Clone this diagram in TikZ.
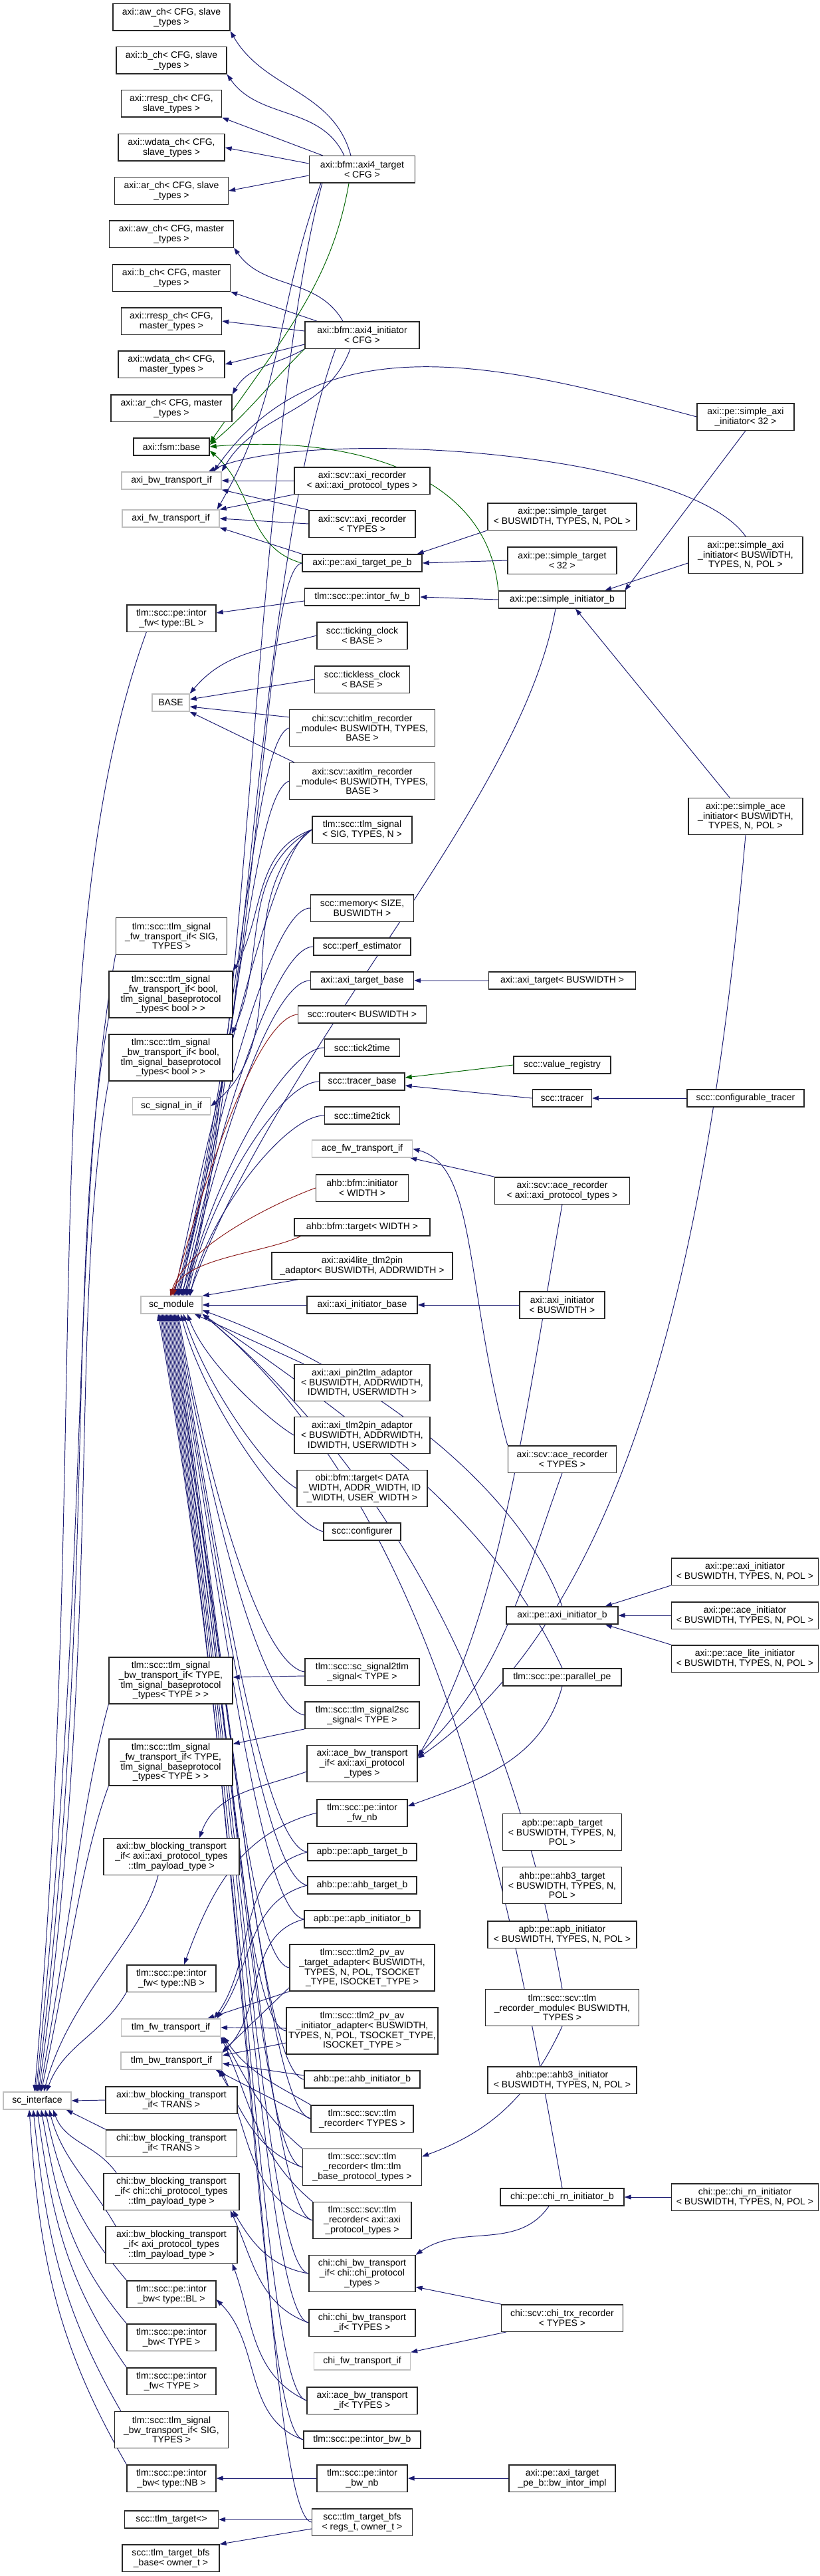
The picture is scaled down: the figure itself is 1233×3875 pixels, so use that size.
\documentclass[tikz,border=0pt]{standalone}
\usepackage{fontspec}
\setmainfont{Liberation Sans}
\usepackage{xcolor}
\usetikzlibrary{arrows.meta, backgrounds}
\definecolor{edgeblue}{RGB}{25,25,112}
\definecolor{edgegreen}{RGB}{0,100,0}
\definecolor{edgered}{RGB}{139,26,26}

\begin{document}
\begin{tikzpicture}[
    x=0.25pt, y=0.25pt,
    cls/.style     = {rectangle, draw=black!85, line width=0.35pt, fill=white,
                      align=center, inner sep=0.5pt, minimum height=6.5pt,
                      font={\fontsize{3.5}{3.7}\selectfont}},
    cls2/.style    = {cls, minimum height=10.1pt},
    cls3/.style    = {cls, minimum height=13.75pt},
    cls4/.style    = {cls, minimum height=17.5pt},
    ext/.style     = {cls, draw=black!25},
    bw/.style      = {minimum width=#1*0.25pt},
    xs/.style      = {xshift=#1*0.25pt},
    ys/.style      = {yshift=#1*0.25pt},
    inh/.style     = {draw=edgeblue, line width=0.24pt,
                      -{Triangle[length=2.5pt,width=1.75pt]}},
    inhprot/.style = {inh, draw=edgegreen},
    inhpriv/.style = {inh, draw=edgered}
  ]
  \useasboundingbox (0,0) rectangle (1233,-3875);

  % ── Column 1: bases (x≈258) ─────────────────────────────────
  \node[cls2, bw=176] (awS)    at (258,-26)  {axi::aw\_ch< CFG, slave\\\_types >};
  \node[cls2, bw=166] (bS)     at (258,-91)  {axi::b\_ch< CFG, slave\\\_types >};
  \node[cls2, bw=151] (rrespS) at (258,-156) {axi::rresp\_ch< CFG,\\slave\_types >};
  \node[cls2, bw=160] (wdataS) at (258,-222) {axi::wdata\_ch< CFG,\\slave\_types >};
  \node[cls2, bw=171] (arS)    at (258,-287) {axi::ar\_ch< CFG, slave\\\_types >};
  \node[cls2, bw=187] (awM)    at (258,-352) {axi::aw\_ch< CFG, master\\\_types >};
  \node[cls2, bw=177] (bM)     at (258,-418) {axi::b\_ch< CFG, master\\\_types >};
  \node[cls2, bw=151] (rrespM) at (258,-483) {axi::rresp\_ch< CFG,\\master\_types >};
  \node[cls2, bw=160] (wdataM) at (258,-548) {axi::wdata\_ch< CFG,\\master\_types >};
  \node[cls2, bw=182] (arM)    at (258,-614) {axi::ar\_ch< CFG, master\\\_types >};
  \node[cls,  bw=114] (fsm)    at (258,-672) {axi::fsm::base};
  \node[ext,  bw=150] (axibw)  at (258,-723) {axi\_bw\_transport\_if};
  \node[ext,  bw=146] (axifw)  at (257,-780) {axi\_fw\_transport\_if};
  \node[cls2, bw=134] (intorFwBL) at (258,-930)  {tlm::scc::pe::intor\\\_fw< type::BL >};
  \node[ext,  bw=56]  (baseTpl)   at (257,-1057) {BASE};
  \node[cls3, bw=167] (sigFwSIG)  at (258,-1408) {tlm::scc::tlm\_signal\\\_fw\_transport\_if< SIG,\\TYPES >};
  \node[cls4, bw=186] (sigFwBool) at (257,-1496) {tlm::scc::tlm\_signal\\\_fw\_transport\_if< bool,\\tlm\_signal\_baseprotocol\\\_types< bool > >};
  \node[cls4, bw=186] (sigBwBool) at (257,-1591) {tlm::scc::tlm\_signal\\\_bw\_transport\_if< bool,\\tlm\_signal\_baseprotocol\\\_types< bool > >};
  \node[ext,  bw=117] (scSigIn)   at (258,-1664) {sc\_signal\_in\_if};
  \node[ext,  bw=92]  (scModule)  at (258,-1963) {sc\_module};
  \node[cls4, bw=186] (sigBwTYPE) at (257,-2528) {tlm::scc::tlm\_signal\\\_bw\_transport\_if< TYPE,\\tlm\_signal\_baseprotocol\\\_types< TYPE > >};
  \node[cls4, bw=186] (sigFwTYPE) at (257,-2651) {tlm::scc::tlm\_signal\\\_fw\_transport\_if< TYPE,\\tlm\_signal\_baseprotocol\\\_types< TYPE > >};
  \node[cls3, bw=204] (axiBwBlkPT) at (258,-2793) {axi::bw\_blocking\_transport\\\_if< axi::axi\_protocol\_types\\::tlm\_payload\_type >};
  \node[cls2, bw=134] (intorFwNB)  at (258,-2976) {tlm::scc::pe::intor\\\_fw< type::NB >};
  \node[ext,  bw=149] (tlmfw)      at (257,-3050) {tlm\_fw\_transport\_if};
  \node[ext,  bw=152] (tlmbw)      at (258,-3100) {tlm\_bw\_transport\_if};
  \node[ext,  bw=102] (scInterface) at (56,-3160) {sc\_interface};
  \node[cls2, bw=198] (axiBwBlkTRANS) at (258,-3159) {axi::bw\_blocking\_transport\\\_if< TRANS >};
  \node[cls2, bw=197] (chiBwBlkTRANS) at (258,-3224) {chi::bw\_blocking\_transport\\\_if< TRANS >};
  \node[cls3, bw=204] (chiBwBlkChi)   at (258,-3297) {chi::bw\_blocking\_transport\\\_if< chi::chi\_protocol\_types\\::tlm\_payload\_type >};
  \node[cls3, bw=198] (axiBwBlkAxi)   at (258,-3377) {axi::bw\_blocking\_transport\\\_if< axi\_protocol\_types\\::tlm\_payload\_type >};
  \node[cls2, bw=134] (intorBwBL)   at (258,-3451) {tlm::scc::pe::intor\\\_bw< type::BL >};
  \node[cls2, bw=134] (intorBwTYPE) at (258,-3516) {tlm::scc::pe::intor\\\_bw< TYPE >};
  \node[cls2, bw=134] (intorFwTYPE) at (258,-3582) {tlm::scc::pe::intor\\\_fw< TYPE >};
  \node[cls3, bw=171] (sigBwSIG)    at (258,-3655) {tlm::scc::tlm\_signal\\\_bw\_transport\_if< SIG,\\TYPES >};
  \node[cls2, bw=134] (intorBwNB)   at (258,-3728) {tlm::scc::pe::intor\\\_bw< type::NB >};
  \node[cls,  bw=141] (tlmTarget)   at (258,-3790) {scc::tlm\_target<>};
  \node[cls2, bw=146] (bfsBase)     at (257,-3848) {scc::tlm\_target\_bfs\\\_base< owner\_t >};

  % ── Column 2: classes (x≈545) ──────────────────────────────
  \node[cls2, bw=159] (axi4Target)    at (545,-255)  {axi::bfm::axi4\_target\\< CFG >};
  \node[cls2, bw=172] (axi4Init)      at (545,-504)  {axi::bfm::axi4\_initiator\\< CFG >};
  \node[cls2, bw=204] (axiRecPT)      at (545,-723)  {axi::scv::axi\_recorder\\< axi::axi\_protocol\_types >};
  \node[cls2, bw=160] (axiRecTYPES)   at (545,-788)  {axi::scv::axi\_recorder\\< TYPES >};
  \node[cls,  bw=180] (targetPeB)     at (545,-847)  {axi::pe::axi\_target\_pe\_b};
  \node[cls,  bw=173] (intorFwB)      at (545,-898)  {tlm::scc::pe::intor\_fw\_b};
  \node[cls2, bw=136] (tickingClock)  at (545,-956)  {scc::ticking\_clock\\< BASE >};
  \node[cls2, bw=143] (ticklessClock) at (545,-1022) {scc::tickless\_clock\\< BASE >};
  \node[cls3, bw=219] (chitlmRec)     at (545,-1095) {chi::scv::chitlm\_recorder\\\_module< BUSWIDTH, TYPES,\\BASE >};
  \node[cls3, bw=219] (axitlmRec)     at (545,-1175) {axi::scv::axitlm\_recorder\\\_module< BUSWIDTH, TYPES,\\BASE >};
  \node[cls2, bw=150] (tlmSignal)     at (545,-1248) {tlm::scc::tlm\_signal\\< SIG, TYPES, N >};
  \node[cls2, bw=155] (memory)        at (545,-1366) {scc::memory< SIZE,\\BUSWIDTH >};
  \node[cls,  bw=146] (perfEst)       at (545,-1424) {scc::perf\_estimator};
  \node[cls,  bw=155] (axiTargetBase) at (545,-1475) {axi::axi\_target\_base};
  \node[cls,  bw=193] (router)        at (545,-1526) {scc::router< BUSWIDTH >};
  \node[cls,  bw=113] (tick2time)     at (545,-1576) {scc::tick2time};
  \node[cls,  bw=128] (tracerBase)    at (545,-1627) {scc::tracer\_base};
  \node[cls,  bw=113] (time2tick)     at (545,-1678) {scc::time2tick};
  \node[ext,  bw=151] (aceFw)         at (545,-1728) {ace\_fw\_transport\_if};
  \node[cls2, bw=139] (ahbBfmInit)    at (545,-1787) {ahb::bfm::initiator\\< WIDTH >};
  \node[cls,  bw=204] (ahbBfmTarget)  at (545,-1846) {ahb::bfm::target< WIDTH >};
  \node[cls2, bw=272] (axi4lite)      at (545,-1904) {axi::axi4lite\_tlm2pin\\\_adaptor< BUSWIDTH, ADDRWIDTH >};
  \node[cls,  bw=166] (axiInitBase)   at (545,-1963) {axi::axi\_initiator\_base};
  \node[cls3, bw=204] (pin2tlm)       at (545,-2080) {axi::axi\_pin2tlm\_adaptor\\< BUSWIDTH, ADDRWIDTH,\\IDWIDTH, USERWIDTH >};
  \node[cls3, bw=204] (tlm2pin)       at (545,-2159) {axi::axi\_tlm2pin\_adaptor\\< BUSWIDTH, ADDRWIDTH,\\IDWIDTH, USERWIDTH >};
  \node[cls3, bw=196] (obiTarget)     at (545,-2239) {obi::bfm::target< DATA\\\_WIDTH, ADDR\_WIDTH, ID\\\_WIDTH, USER\_WIDTH >};
  \node[cls,  bw=116] (configurer)    at (545,-2304) {scc::configurer};
  \node[cls2, bw=172] (sig2tlm)       at (545,-2515) {tlm::scc::sc\_signal2tlm\\\_signal< TYPE >};
  \node[cls2, bw=172] (sig2sc)        at (545,-2580) {tlm::scc::tlm\_signal2sc\\\_signal< TYPE >};
  \node[cls3, bw=166] (aceBwPT)       at (545,-2653) {axi::ace\_bw\_transport\\\_if< axi::axi\_protocol\\\_types >};
  \node[cls2, bw=136] (intorFwNb)     at (545,-2727) {tlm::scc::pe::intor\\\_fw\_nb};
  \node[cls,  bw=164] (apbTargetB)    at (545,-2786) {apb::pe::apb\_target\_b};
  \node[cls,  bw=164] (ahbTargetB)    at (545,-2836) {ahb::pe::ahb\_target\_b};
  \node[cls,  bw=174] (apbInitB)      at (545,-2887) {apb::pe::apb\_initiator\_b};
  \node[cls4, bw=218] (pvTarget)      at (545,-2960) {tlm::scc::tlm2\_pv\_av\\\_target\_adapter< BUSWIDTH,\\TYPES, N, POL, TSOCKET\\\_TYPE, ISOCKET\_TYPE >};
  \node[cls4, bw=228] (pvInit)        at (545,-3055) {tlm::scc::tlm2\_pv\_av\\\_initiator\_adapter< BUSWIDTH,\\TYPES, N, POL, TSOCKET\_TYPE,\\ISOCKET\_TYPE >};
  \node[cls,  bw=174] (ahbInitB)      at (545,-3128) {ahb::pe::ahb\_initiator\_b};
  \node[cls2, bw=154] (tlmRecTYPES)   at (545,-3187) {tlm::scc::scv::tlm\\\_recorder< TYPES >};
  \node[cls3, bw=179] (tlmRecBase)    at (545,-3260) {tlm::scc::scv::tlm\\\_recorder< tlm::tlm\\\_base\_protocol\_types >};
  \node[cls3, bw=148] (tlmRecAxi)     at (545,-3340) {tlm::scc::scv::tlm\\\_recorder< axi::axi\\\_protocol\_types >};
  \node[cls3, bw=160] (chiBwChi)      at (545,-3420) {chi::chi\_bw\_transport\\\_if< chi::chi\_protocol\\\_types >};
  \node[cls2, bw=160] (chiBwTYPES)    at (545,-3494) {chi::chi\_bw\_transport\\\_if< TYPES >};
  \node[ext,  bw=145] (chiFw)         at (545,-3552) {chi\_fw\_transport\_if};
  \node[cls2, bw=166] (aceBwTYPES)    at (545,-3611) {axi::ace\_bw\_transport\\\_if< TYPES >};
  \node[cls,  bw=176] (intorBwB)      at (545,-3670) {tlm::scc::pe::intor\_bw\_b};
  \node[cls2, bw=136] (intorBwNb)     at (545,-3728) {tlm::scc::pe::intor\\\_bw\_nb};
  \node[cls2, bw=151] (bfs)           at (545,-3794) {scc::tlm\_target\_bfs\\< regs\_t, owner\_t >};

  % ── Column 3: derived classes (x≈846) ──────────────────────
  \node[cls2, bw=224] (simpleTarget)   at (846,-777)  {axi::pe::simple\_target\\< BUSWIDTH, TYPES, N, POL >};
  \node[cls2, bw=164] (simpleTarget32) at (846,-843)  {axi::pe::simple\_target\\< 32 >};
  \node[cls,  bw=191] (simpleInitB)    at (846,-902)  {axi::pe::simple\_initiator\_b};
  \node[cls,  bw=221] (axiTarget)      at (846,-1475) {axi::axi\_target< BUSWIDTH >};
  \node[cls,  bw=146] (valueReg)       at (846,-1602) {scc::value\_registry};
  \node[cls,  bw=89]  (tracer)         at (846,-1652) {scc::tracer};
  \node[cls2, bw=203] (aceRecPT)       at (846,-1791) {axi::scv::ace\_recorder\\< axi::axi\_protocol\_types >};
  \node[cls2, bw=128] (axiInitiator)   at (846,-1963) {axi::axi\_initiator\\< BUSWIDTH >};
  \node[cls2, bw=163] (aceRecTYPES)    at (846,-2195) {axi::scv::ace\_recorder\\< TYPES >};
  \node[cls,  bw=168] (axiInitB)       at (846,-2430) {axi::pe::axi\_initiator\_b};
  \node[cls,  bw=178] (parallelPe)     at (846,-2523) {tlm::scc::pe::parallel\_pe};
  \node[cls3, bw=179] (apbTarget)      at (846,-2756) {apb::pe::apb\_target\\< BUSWIDTH, TYPES, N,\\POL >};
  \node[cls3, bw=179] (ahb3Target)     at (846,-2836) {ahb::pe::ahb3\_target\\< BUSWIDTH, TYPES, N,\\POL >};
  \node[cls2, bw=224] (apbInit)        at (846,-2910) {apb::pe::apb\_initiator\\< BUSWIDTH, TYPES, N, POL >};
  \node[cls3, bw=231] (tlmRecModule)   at (846,-3020) {tlm::scc::scv::tlm\\\_recorder\_module< BUSWIDTH,\\TYPES >};
  \node[cls2, bw=224] (ahb3Init)       at (846,-3129) {ahb::pe::ahb3\_initiator\\< BUSWIDTH, TYPES, N, POL >};
  \node[cls,  bw=186] (chiRnInitB)     at (846,-3305) {chi::pe::chi\_rn\_initiator\_b};
  \node[cls2, bw=183] (chiTrx)         at (846,-3487) {chi::scv::chi\_trx\_recorder\\< TYPES >};
  \node[cls2, bw=160] (bwIntorImpl)    at (846,-3728) {axi::pe::axi\_target\\\_pe\_b::bw\_intor\_impl};

  % ── Column 4: leaves (x≈1122) ──────────────────────────────
  \node[cls2, bw=146] (simpleAxiInit32) at (1122,-627)  {axi::pe::simple\_axi\\\_initiator< 32 >};
  \node[cls3, bw=172] (simpleAxiInitBW) at (1122,-835)  {axi::pe::simple\_axi\\\_initiator< BUSWIDTH,\\TYPES, N, POL >};
  \node[cls3, bw=172] (simpleAceInit)   at (1122,-1228) {axi::pe::simple\_ace\\\_initiator< BUSWIDTH,\\TYPES, N, POL >};
  \node[cls,  bw=176] (confTracer)      at (1122,-1652) {scc::configurable\_tracer};
  \node[cls2, bw=221] (peAxiInit)       at (1121,-2364) {axi::pe::axi\_initiator\\< BUSWIDTH, TYPES, N, POL >};
  \node[cls2, bw=221] (peAceInit)       at (1121,-2430) {axi::pe::ace\_initiator\\< BUSWIDTH, TYPES, N, POL >};
  \node[cls2, bw=221] (peAceLite)       at (1121,-2495) {axi::pe::ace\_lite\_initiator\\< BUSWIDTH, TYPES, N, POL >};
  \node[cls2, bw=221] (chiRnInit)       at (1121,-3305) {chi::pe::chi\_rn\_initiator\\< BUSWIDTH, TYPES, N, POL >};

  \begin{scope}[on background layer]
  % ── Channel bases of the axi4 bfms ──────────────────────────
  \draw[inh] ([xs=-17]axi4Target.north) to[out=105,in=-60] (awS.south east);
  \draw[inh] ([xs=-27]axi4Target.north) to[out=115,in=-55] (bS.south east);
  \draw[inh] ([xs=-59]axi4Target.north) -- (rrespS.south east);
  \draw[inh] ([ys=9]axi4Target.west) -- (wdataS.east);
  \draw[inh] ([ys=-9]axi4Target.west) -- (arS.east);
  \draw[inh] ([xs=-29]axi4Init.north) to[out=120,in=-55] (awM.south east);
  \draw[inh] ([xs=-68]axi4Init.north) -- (bM.south east);
  \draw[inh] ([ys=6]axi4Init.west) -- (rrespM.east);
  \draw[inh] ([ys=-14]axi4Init.west) -- (wdataM.east);
  \draw[inh] (axi4Init.south west) to[out=-150,in=60] (arM.north east);

  % ── axi::fsm::base (protected) ─────────────────────────────
  \draw[inhprot] ([xs=-20]axi4Target.south) .. controls +(-100:150) and +(55:200) .. ([ys=6]fsm.east);
  \draw[inhprot] (axi4Init.south west) to[out=-135,in=40] ([ys=3]fsm.east);
  \draw[inhprot] (simpleInitB.north west) to[out=95,in=5] (fsm.east);
  \draw[inhprot] (targetPeB.west) to[out=165,in=-40] ([ys=-6]fsm.east);

  % ── axi fw/bw transport ────────────────────────────────────
  \draw[inh] ([xs=-18]axi4Init.south) to[out=-110,in=60] (axibw.north east);
  \draw[inh] ([xs=18]axi4Target.south west) to[out=-110,in=60] ([xs=-4]axifw.north east);
  \draw[inh] (simpleAxiInit32.west) to[out=165,in=55] ([xs=-12]axibw.north east);
  \draw[inh] (simpleAxiInitBW.north) to[out=125,in=25,looseness=0.5] ([xs=-20]axibw.north east);
  \draw[inh] (axiRecPT.west) -- (axibw.east);
  \draw[inh] (axiRecPT.south west) -- (axifw.north east);
  \draw[inh] (axiRecTYPES.north west) -- (axibw.south east);
  \draw[inh] (axiRecTYPES.west) -- (axifw.east);
  \draw[inh] (targetPeB.north west) -- (axifw.south east);

  % ── pe initiator / target chains ───────────────────────────
  \draw[inh] (simpleAxiInit32.south) -- ([xs=-2]simpleInitB.north east);
  \draw[inh] ([ys=-12]simpleAxiInitBW.west) -- ([xs=-32]simpleInitB.north east);
  \draw[inh] ([xs=-24]simpleAceInit.north) -- ([xs=20]simpleInitB.south);
  \draw[inh] (simpleTarget.south west) -- ([xs=-8]targetPeB.north east);
  \draw[inh] (simpleTarget32.west) -- (targetPeB.east);
  \draw[inh] (simpleInitB.west) -- (intorFwB.east);
  \draw[inh] ([ys=-6]intorFwB.west) -- ([ys=8]intorFwBL.east);

  % ── BASE ────────────────────────────────────────────────────
  \draw[inh] (tickingClock.west) to[out=195,in=50] (baseTpl.north east);
  \draw[inh] (ticklessClock.west) -- ([ys=5]baseTpl.east);
  \draw[inh] ([ys=-12]chitlmRec.north west) -- ([ys=-6]baseTpl.east);
  \draw[inh] ([xs=8]axitlmRec.north west) -- (baseTpl.south east);

  % ── tlm_signal ──────────────────────────────────────────────
  \draw[inh] (tlmSignal.west) to[out=200,in=60] (sigFwBool.north east);
  \draw[inh] (tlmSignal.west) to[out=210,in=65] ([xs=-2]sigBwBool.north east);
  \draw[inh] (tlmSignal.west) to[out=220,in=40] (scSigIn.east);

  % ── sc_module, from above ───────────────────────────────────
  \draw[inh] ([xs=20]axi4Target.south west) .. controls +(-105:400) and +(70:300) .. ([xs=14]scModule.north);
  \draw[inh] ([xs=-40]axi4Init.south) .. controls +(-110:350) and +(72:300) .. ([xs=18]scModule.north);
  \draw[inh] (targetPeB.west) .. controls +(190:60) and +(75:500) .. ([xs=10]scModule.north);
  \draw[inh] ([xs=-10]simpleInitB.south) .. controls +(-100:300) and +(70:400) .. ([xs=26]scModule.north);
  \draw[inh] (chitlmRec.west) .. controls +(200:60) and +(75:380) .. ([xs=6]scModule.north);
  \draw[inh] (axitlmRec.west) .. controls +(200:60) and +(75:350) .. ([xs=8]scModule.north);
  \draw[inh] (tlmSignal.west) .. controls +(200:60) and +(78:300) .. ([xs=4]scModule.north);
  \draw[inh] (memory.west) .. controls +(180:60) and +(78:260) .. ([xs=12]scModule.north);
  \draw[inh] (perfEst.west) .. controls +(180:60) and +(78:240) .. ([xs=16]scModule.north);
  \draw[inh] (axiTargetBase.west) .. controls +(180:60) and +(78:215) .. ([xs=20]scModule.north);
  \draw[inhpriv] (router.west) .. controls +(185:60) and +(75:190) .. ([xs=2]scModule.north);
  \draw[inh] (tick2time.west) .. controls +(180:60) and +(78:170) .. ([xs=22]scModule.north);
  \draw[inh] (tracerBase.west) .. controls +(180:60) and +(78:145) .. ([xs=24]scModule.north);
  \draw[inh] (time2tick.west) .. controls +(180:60) and +(78:120) .. ([xs=28]scModule.north);
  \draw[inhpriv] (ahbBfmInit.west) .. controls +(200:60) and +(72:80) .. ([xs=-2]scModule.north);
  \draw[inhpriv] ([xs=10]ahbBfmTarget.south west) .. controls +(205:60) and +(72:60) .. (scModule.north);
  \draw[inh] ([xs=40]axi4lite.south west) -- (scModule.north east);
  \draw[inh] (axiInitBase.west) -- (scModule.east);

  % ── sc_module, from below ───────────────────────────────────
  \draw[inh] ([xs=15]pin2tlm.north west) -- ([xs=-12]scModule.south east);
  \draw[inh] (tlm2pin.west) .. controls +(150:40) and +(-70:80) .. ([xs=24]scModule.south);
  \draw[inh] (obiTarget.west) .. controls +(150:50) and +(-72:120) .. ([xs=18]scModule.south);
  \draw[inh] (configurer.west) .. controls +(165:50) and +(-75:150) .. ([xs=14]scModule.south);
  \draw[inh] (sig2tlm.west) .. controls +(170:70) and +(-80:240) .. ([xs=10]scModule.south);
  \draw[inh] (sig2sc.west) .. controls +(170:70) and +(-80:270) .. ([xs=8]scModule.south);
  \draw[inh] (apbTargetB.west) .. controls +(170:70) and +(-80:360) .. ([xs=6]scModule.south);
  \draw[inh] (ahbTargetB.west) .. controls +(170:70) and +(-80:390) .. ([xs=4]scModule.south);
  \draw[inh] (apbInitB.west) .. controls +(170:70) and +(-80:410) .. ([xs=2]scModule.south);
  \draw[inh] (pvTarget.west) .. controls +(170:70) and +(-80:440) .. (scModule.south);
  \draw[inh] (pvInit.west) .. controls +(170:70) and +(-80:490) .. ([xs=-2]scModule.south);
  \draw[inh] (ahbInitB.west) .. controls +(170:70) and +(-80:520) .. ([xs=-4]scModule.south);
  \draw[inh] (tlmRecTYPES.west) .. controls +(170:70) and +(-80:545) .. ([xs=-6]scModule.south);
  \draw[inh] (tlmRecBase.west) .. controls +(170:70) and +(-80:580) .. ([xs=-8]scModule.south);
  \draw[inh] (tlmRecAxi.west) .. controls +(170:70) and +(-80:615) .. ([xs=-10]scModule.south);
  \draw[inh] (chiBwChi.west) .. controls +(170:70) and +(-80:650) .. ([xs=-12]scModule.south);
  \draw[inh] (chiBwTYPES.west) .. controls +(170:70) and +(-80:680) .. ([xs=-14]scModule.south);
  \draw[inh] (aceBwTYPES.west) .. controls +(170:70) and +(-80:735) .. ([xs=-16]scModule.south);
  \draw[inh] (intorBwB.west) .. controls +(170:70) and +(-80:760) .. ([xs=-18]scModule.south);
  \draw[inh] (bfs.west) .. controls +(170:70) and +(-80:820) .. ([xs=-20]scModule.south);
  \draw[inh] (axiInitB.north) .. controls +(110:200) and +(-20:250) .. ([ys=-8]scModule.east);
  \draw[inh] (parallelPe.north) .. controls +(115:250) and +(-35:300) .. (scModule.south east);
  \draw[inh] (tlmRecModule.north) .. controls +(100:400) and +(-40:400) .. (scModule.south east);
  \draw[inh] (chiRnInitB.north) .. controls +(100:500) and +(-40:450) .. (scModule.south east);

  % ── tracer, target and initiator bases ──────────────────────
  \draw[inh] (axiTarget.west) -- (axiTargetBase.east);
  \draw[inhprot] (valueReg.west) -- ([ys=6]tracerBase.east);
  \draw[inh] (tracer.west) -- ([ys=-6]tracerBase.east);
  \draw[inh] (confTracer.west) -- (tracer.east);
  \draw[inh] (axiInitiator.west) -- (axiInitBase.east);

  % ── ace ─────────────────────────────────────────────────────
  \draw[inh] (aceRecPT.north west) -- ([xs=-4]aceFw.south east);
  \draw[inh] (aceRecTYPES.north west) .. controls +(105:250) and +(-15:100) .. (aceFw.east);
  \draw[inh] (aceRecPT.south) .. controls +(-100:350) and +(60:250) .. ([ys=10]aceBwPT.east);
  \draw[inh] (aceRecTYPES.south) to[out=-110,in=45] ([ys=12]aceBwPT.east);
  \draw[inh] (simpleAceInit.south) .. controls +(-95:600) and +(35:400) .. ([ys=8]aceBwPT.east);

  % ── axi::pe::axi_initiator_b ────────────────────────────────
  \draw[inh] (peAxiInit.south west) -- ([xs=-20]axiInitB.north east);
  \draw[inh] (peAceInit.west) -- (axiInitB.east);
  \draw[inh] (peAceLite.north west) -- ([xs=-20]axiInitB.south east);
  \draw[inh] (parallelPe.south) to[out=-105,in=20] ([ys=10]intorFwNb.east);

  % ── signals and blocking transports ─────────────────────────
  \draw[inh] ([ys=-6]sig2tlm.west) -- ([ys=5]sigBwTYPE.east);
  \draw[inh] (sig2sc.south west) -- ([ys=-8]sigFwTYPE.north east);
  \draw[inh] ([ys=-12]aceBwPT.west) to[out=200,in=70] ([xs=42]axiBwBlkPT.north);
  \draw[inh] (intorFwNb.west) to[out=195,in=70] ([xs=19]intorFwNB.north);

  % ── tlm fw/bw transport ─────────────────────────────────────
  \draw[inh] (pvTarget.south west) -- ([xs=-20]tlmfw.north east);
  \draw[inh] ([ys=6]pvTarget.south west) -- (tlmbw.north east);
  \draw[inh] ([ys=4]pvInit.west) -- (tlmfw.east);
  \draw[inh] ([ys=-18]pvInit.west) -- ([ys=8]tlmbw.east);
  \draw[inh] ([ys=6]ahbInitB.west) -- ([ys=-4]tlmbw.east);
  \draw[inh] (apbTargetB.west) to[out=195,in=55] ([xs=-10]tlmfw.north east);
  \draw[inh] (ahbTargetB.west) to[out=195,in=55] ([xs=-6]tlmfw.north east);
  \draw[inh] (apbInitB.west) to[out=195,in=45] ([ys=12]tlmbw.east);
  \draw[inh] (tlmRecTYPES.north west) to[out=150,in=-55] ([xs=4]tlmfw.south east);
  \draw[inh] (tlmRecTYPES.west) -- ([xs=-10]tlmbw.south east);
  \draw[inh] (tlmRecBase.west) to[out=160,in=-60] ([xs=-6]tlmbw.south east);
  \draw[inh] (tlmRecBase.north west) to[out=140,in=-60] ([xs=2]tlmfw.south east);
  \draw[inh] (tlmRecAxi.west) to[out=160,in=-65] ([xs=-2]tlmbw.south east);
  \draw[inh] (tlmRecAxi.north west) to[out=140,in=-65] (tlmfw.south east);
  \draw[inh] (tlmRecModule.south) to[out=-115,in=20] ([ys=16]tlmRecBase.east);

  % ── chi ─────────────────────────────────────────────────────
  \draw[inh] (chiRnInit.west) -- (chiRnInitB.east);
  \draw[inh] ([xs=-20]chiRnInitB.south) to[out=-125,in=35] (chiBwChi.north east);
  \draw[inh] (chiTrx.north west) -- ([ys=8]chiBwChi.south east);
  \draw[inh] ([xs=8]chiTrx.south west) -- (chiFw.north east);
  \draw[inh] (chiBwChi.west) to[out=170,in=-60] ([xs=-10]chiBwBlkChi.south east);
  \draw[inh] (chiBwTYPES.west) to[out=160,in=-65] ([xs=-14]chiBwBlkChi.south east);
  \draw[inh] (aceBwTYPES.west) to[out=155,in=-70] ([xs=-8]axiBwBlkAxi.south east);

  % ── intor bw and target bfs ─────────────────────────────────
  \draw[inh] (intorBwB.west) to[out=160,in=-45] ([ys=-8]intorBwBL.east);
  \draw[inh] (bwIntorImpl.west) -- (intorBwNb.east);
  \draw[inh] (intorBwNb.west) -- (intorBwNB.east);
  \draw[inh] ([ys=4]bfs.west) -- (tlmTarget.east);
  \draw[inh] ([ys=-10]bfs.west) -- (bfsBase.north east);

  % ── sc_interface, from above ────────────────────────────────
  \draw[inh] ([xs=30]intorFwBL.south west) .. controls +(-110:500) and +(85:1000) .. ([xs=-4]scInterface.north);
  \draw[inh] (sigFwSIG.south west) .. controls +(-100:400) and +(84:800) .. ([xs=-2]scInterface.north);
  \draw[inh] (sigFwBool.south west) .. controls +(-100:380) and +(83:750) .. (scInterface.north);
  \draw[inh] (sigBwBool.south west) .. controls +(-100:350) and +(82:700) .. ([xs=2]scInterface.north);
  \draw[inh] (sigBwTYPE.south west) .. controls +(-105:150) and +(80:280) .. ([xs=4]scInterface.north);
  \draw[inh] (sigFwTYPE.south west) .. controls +(-110:120) and +(78:220) .. ([xs=6]scInterface.north);
  \draw[inh] ([xs=-20]axiBwBlkPT.south) .. controls +(-105:100) and +(75:150) .. ([xs=10]scInterface.north);
  \draw[inh] (intorFwNB.south west) to[out=-120,in=70] ([xs=14]scInterface.north);

  % ── sc_interface, from below ────────────────────────────────
  \draw[inh] (axiBwBlkTRANS.west) -- (scInterface.east);
  \draw[inh] (chiBwBlkTRANS.north west) -- ([xs=-8]scInterface.south east);
  \draw[inh] ([xs=20]chiBwBlkChi.north west) to[out=125,in=-70] ([xs=24]scInterface.south);
  \draw[inh] ([xs=16]axiBwBlkAxi.north west) to[out=120,in=-75] ([xs=18]scInterface.south);
  \draw[inh] (intorBwBL.north west) to[out=130,in=-78] ([xs=12]scInterface.south);
  \draw[inh] (intorBwTYPE.north west) to[out=130,in=-80] ([xs=6]scInterface.south);
  \draw[inh] (intorFwTYPE.north west) to[out=125,in=-82] (scInterface.south);
  \draw[inh] ([xs=10]sigBwSIG.north west) to[out=120,in=-84] ([xs=-6]scInterface.south);
  \draw[inh] (intorBwNB.north west) to[out=120,in=-86] ([xs=-12]scInterface.south);
  \end{scope}

\end{tikzpicture}
\end{document}
